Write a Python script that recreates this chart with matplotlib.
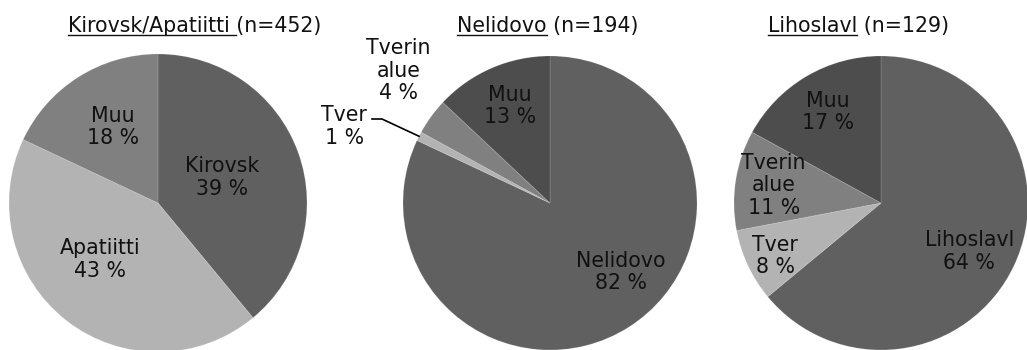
import math
import matplotlib
matplotlib.use("Agg")
import matplotlib.pyplot as plt

plt.rcParams['font.family'] = ['DejaVu Sans']

# Kirovsk/Apatiitti
kir_labels = ["Kirovsk", "Apatiitti", "Muu"]
kir_values = [39, 43, 18]
kir_colors = ["#606060", "#b3b3b3", "#808080"]

# Nelidovo
nel_labels = ["Nelidovo", "Tver", "Tverin\nalue", "Muu"]
nel_values = [82, 1, 4, 13]
nel_colors = ["#606060", "#b3b3b3", "#808080", "#4d4d4d"]

# Lihoslavl
lih_labels = ["Lihoslavl", "Tver", "Tverin\nalue", "Muu"]
lih_values = [64, 8, 11, 17]
lih_colors = ["#606060", "#b3b3b3", "#808080", "#4d4d4d"]

titles = [("Kirovsk/Apatiitti ", "(n=452)"),
          ("Nelidovo", " (n=194)"),
          ("Lihoslavl", " (n=129)")]

W, H = 1027, 350
fig = plt.figure(figsize=(W / 100, H / 100), dpi=100)
fs = 14.8

# pie centre / radius in pixels, label positions in units of radius
pies = [
    dict(vals=kir_values, labs=kir_labels, cols=kir_colors, cx=158, cy=203, r=149,
         pos=[(0.43, 0.17), (-0.39, -0.38), (-0.30, 0.51)], title_x=68),
    dict(vals=nel_values, labs=nel_labels, cols=nel_colors, cx=550, cy=203, r=147,
         pos=[(0.48, -0.47), (-1.40, 0.52), (-1.03, 0.90), (-0.27, 0.66)], title_x=457),
    dict(vals=lih_values, labs=lih_labels, cols=lih_colors, cx=881, cy=203, r=147,
         pos=[(0.60, -0.33), (-0.72, -0.36), (-0.73, 0.12), (-0.36, 0.62)], title_x=768),
]

renderer = fig.canvas.get_renderer()


def text_width(s):
    t = fig.text(0, 0, s, fontsize=fs)
    w = t.get_window_extent(renderer).width
    t.remove()
    return w


space_w = text_width("a a") - text_width("aa")

for i, p in enumerate(pies):
    cx, cy, r = p["cx"], p["cy"], p["r"]
    ax = fig.add_axes([(cx - r) / W, (H - cy - r) / H, 2 * r / W, 2 * r / H])
    wedges, _ = ax.pie(p["vals"], colors=p["cols"], startangle=90, counterclock=False,
                       radius=1, wedgeprops=dict(edgecolor=(1, 1, 1, 0.12), linewidth=0.8))
    ax.set_xlim(-1, 1)
    ax.set_ylim(-1, 1)
    ax.axis("off")
    for w in wedges:
        w.set_clip_on(False)

    for lab, v, (x, y) in zip(p["labs"], p["vals"], p["pos"]):
        ax.text(x, y, f"{lab}\n{v} %", ha="center", va="center", fontsize=fs,
                color="#111111", linespacing=1.15, clip_on=False)

    # leader line for the thin Tver slice
    if i == 1:
        w = wedges[1]
        mid = math.radians((w.theta1 + w.theta2) / 2)
        y0 = (cy - 119) / r
        ax.plot([(372 - cx) / r, (382 - cx) / r, math.cos(mid)],
                [y0, y0, math.sin(mid)], color="black", lw=1.2, clip_on=False)

    # title with underlined place name
    name, rest = titles[i]
    tx = p["title_x"] / W
    ty = (H - 32) / H
    fig.text(tx, ty, name + rest, fontsize=fs, color="#111111", va="baseline")
    ul = text_width(name.rstrip()) + space_w * (len(name) - len(name.rstrip()))
    uy = (H - 34.5) / H
    fig.add_artist(plt.Line2D([tx, tx + ul / W], [uy, uy], color="#111111", lw=1.0))

fig.savefig("out.png", dpi=100)
